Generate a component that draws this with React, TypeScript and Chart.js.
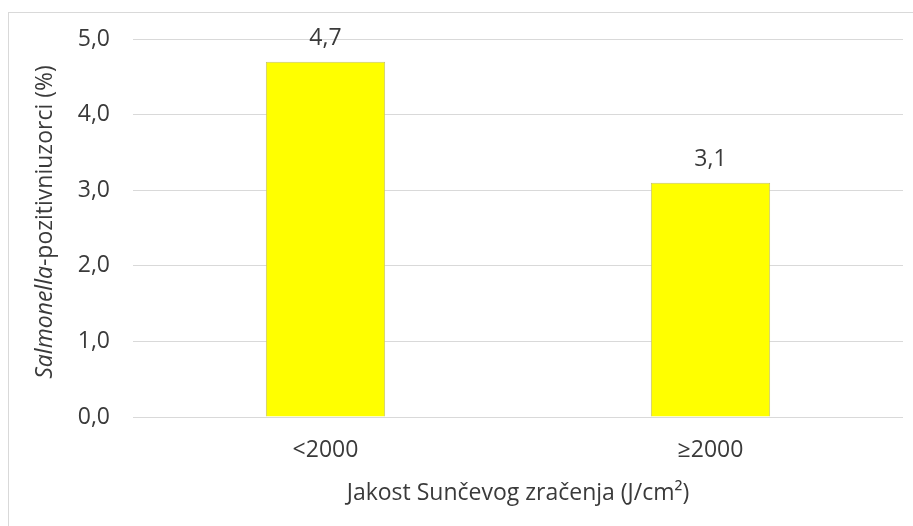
import React, { useEffect, useRef } from "react";
import { Chart, registerables } from "chart.js";

Chart.register(...registerables);

const categories = ["<2000", "≥2000"];
const values = [4.7, 3.1];
const yMin = 0;
const yMax = 5;
const yStep = 1;
const yTitleItalic = "Salmonella";
const yTitleRest = "-pozitivniuzorci (%)";
const xTitle = "Jakost Sunčevog zračenja (J/cm²)";

const FONT = "'Open Sans', sans-serif";
const TEXT = "#3a3a3a";
const SIZE = 23;
const fmt = (v: number) => v.toFixed(1).replace(".", ",");

const overlay = {
  id: "overlay",
  afterDraw(chart: any) {
    const ctx = chart.ctx;
    const area = chart.chartArea;
    ctx.save();
    ctx.fillStyle = TEXT;
    ctx.font = `${SIZE}px ${FONT}`;
    ctx.textAlign = "center";
    ctx.textBaseline = "alphabetic";
    const meta = chart.getDatasetMeta(0);
    meta.data.forEach((bar: any, i: number) => {
      ctx.fillText(fmt(values[i]), bar.x, bar.y - 17);
    });
    ctx.textBaseline = "middle";
    ctx.fillText(xTitle, (area.left + area.right) / 2, 493);
    const italicFont = `italic ${SIZE}px ${FONT}`;
    const normalFont = `${SIZE}px ${FONT}`;
    ctx.font = italicFont;
    const w1 = ctx.measureText(yTitleItalic).width;
    ctx.font = normalFont;
    const w2 = ctx.measureText(yTitleRest).width;
    const total = w1 + w2;
    ctx.translate(45, 222);
    ctx.rotate(-Math.PI / 2);
    ctx.textAlign = "left";
    ctx.font = italicFont;
    ctx.fillText(yTitleItalic, -total / 2, 0);
    ctx.font = normalFont;
    ctx.fillText(yTitleRest, -total / 2 + w1, 0);
    ctx.restore();
  },
};

export default function App() {
  const ref = useRef<HTMLCanvasElement>(null);
  useEffect(() => {
    if (!ref.current) return;
    const chart = new Chart(ref.current, {
      type: "bar",
      data: {
        labels: categories,
        datasets: [
          {
            data: values,
            backgroundColor: "#FFFF00",
            borderColor: "#c8c46a",
            borderWidth: 1,
            categoryPercentage: 1,
            barPercentage: 0.31,
          },
        ],
      },
      options: {
        responsive: false,
        maintainAspectRatio: false,
        animation: false,
        layout: { padding: { left: 0, top: 39, right: 10, bottom: 0 } },
        plugins: {
          legend: { display: false },
          tooltip: { enabled: false },
          title: { display: false },
        },
        scales: {
          x: {
            grid: { display: false, drawTicks: false },
            border: { display: false },
            ticks: {
              padding: 20,
              color: TEXT,
              font: { family: FONT, size: SIZE },
            },
            afterFit: (s: any) => {
              s.height = 109;
            },
          },
          y: {
            min: yMin,
            max: yMax,
            grid: { color: "#d9d9d9", lineWidth: 1, drawTicks: false },
            border: { display: false },
            ticks: {
              stepSize: yStep,
              padding: 23,
              color: TEXT,
              font: { family: FONT, size: SIZE },
              callback: (v: any) => fmt(Number(v)),
            },
            afterFit: (s: any) => {
              s.width = 133;
            },
          },
        },
      },
      plugins: [overlay],
    });
    return () => chart.destroy();
  }, []);
  return (
    <div
      style={{
        position: "fixed",
        left: 0,
        top: 0,
        width: 913,
        height: 526,
        background: "#fff",
      }}
    >
      <div
        style={{
          position: "absolute",
          left: 8,
          top: 12,
          right: 0,
          bottom: 0,
          borderLeft: "1px solid #d9d9d9",
          borderTop: "1px solid #d9d9d9",
        }}
      />
      <canvas
        ref={ref}
        width={913}
        height={526}
        style={{ position: "absolute", left: 0, top: 0, width: 913, height: 526 }}
      />
    </div>
  );
}
